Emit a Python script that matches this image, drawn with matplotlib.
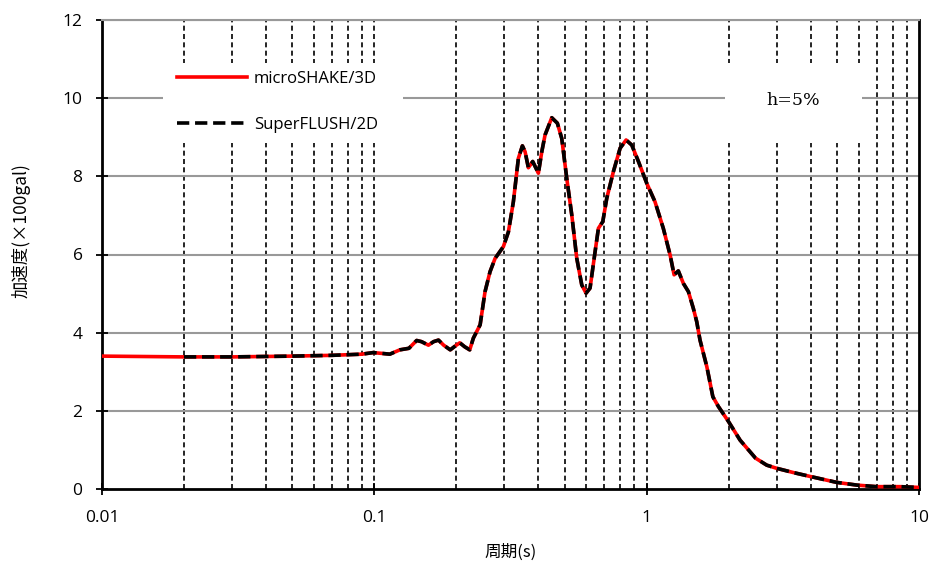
import matplotlib
matplotlib.use("Agg")
import matplotlib.pyplot as plt
from matplotlib.ticker import FixedLocator, NullFormatter, NullLocator

plt.rcParams['font.family'] = ['Noto Sans CJK JP', 'DejaVu Sans']

# period (s)
periods = [0.01, 0.02, 0.03, 0.05, 0.07, 0.09, 0.099, 0.1064, 0.114, 0.124, 0.134, 0.143,
           0.149, 0.158, 0.165, 0.172, 0.1797, 0.190, 0.200, 0.206, 0.2146, 0.224, 0.231,
           0.2446, 0.255, 0.266, 0.2776, 0.2977, 0.3107, 0.324, 0.338, 0.3497, 0.3577,
           0.3678, 0.3816, 0.4003, 0.412, 0.4236, 0.4483, 0.470, 0.4877, 0.5088, 0.5309,
           0.5538, 0.5777, 0.5991, 0.6196, 0.6465, 0.665, 0.690, 0.7137, 0.7547, 0.799,
           0.8404, 0.8817, 0.9327, 1.001, 1.073, 1.151, 1.219, 1.261, 1.307, 1.364, 1.423,
           1.484, 1.527, 1.57, 1.663, 1.75, 1.834, 2.0, 2.203, 2.51, 2.76, 3.0, 3.46,
           3.99, 4.98, 5.91, 6.97, 8.52, 10.0]
# acceleration (x100 gal) - microSHAKE/3D
shake_vals = [3.40, 3.38, 3.38, 3.40, 3.42, 3.45, 3.49, 3.47, 3.45, 3.56, 3.60, 3.80,
              3.77, 3.68, 3.77, 3.81, 3.68, 3.56, 3.68, 3.74, 3.64, 3.56, 3.86,
              4.20, 5.05, 5.56, 5.90, 6.20, 6.58, 7.35, 8.46, 8.78, 8.63,
              8.22, 8.38, 8.08, 8.63, 9.06, 9.50, 9.36, 8.97, 7.95, 7.01,
              5.90, 5.22, 5.01, 5.14, 6.07, 6.67, 6.84, 7.44, 8.12, 8.72,
              8.93, 8.80, 8.38, 7.82, 7.35, 6.67, 5.99, 5.48, 5.58, 5.26, 5.05,
              4.62, 4.28, 3.81, 3.13, 2.36, 2.11, 1.72, 1.25, 0.79, 0.61, 0.53, 0.42,
              0.32, 0.17, 0.10, 0.06, 0.06, 0.04]
# SuperFLUSH/2D (starts at 0.02 s)
flush_periods = periods[1:]
flush_vals = shake_vals[1:]

x_ticks = [0.01, 0.1, 1, 10]
x_tick_labels = ["0.01", "0.1", "1", "10"]
y_ticks = [0, 2, 4, 6, 8, 10, 12]

fig = plt.figure(figsize=(9.33, 5.62), dpi=100)
ax = fig.add_axes([102/933, 73/562, 817/933, 469/562])

ax.set_xscale('log')
ax.set_xlim(0.01, 10)
ax.set_ylim(0, 12)

# grid
minor = [m * 10.0**e for e in (-2, -1, 0) for m in range(2, 10)] + [0.1, 1]
for xv in minor:
    ax.axvline(xv, color='black', lw=1.2, ls=(0, (3, 2)), zorder=1)
for yv in y_ticks[1:]:
    ax.axhline(yv, color='#999999', lw=1.5, zorder=1)

# white boxes behind legend and annotation
ax.axvspan(0.0168, 0.1274, ymin=(489-143)/469, ymax=(489-63)/469, color='white', zorder=2, lw=0)
ax.axvspan(1.94, 6.18, ymin=(489-143)/469, ymax=(489-63)/469, color='white', zorder=2, lw=0)

l1, = ax.plot(periods, shake_vals, color='#ff0000', lw=2.6, zorder=3, label='microSHAKE/3D',
              solid_joinstyle='round')
l2, = ax.plot(flush_periods, flush_vals, color='black', lw=2.6, ls=(0, (3.4, 1.6)), zorder=4,
              label='SuperFLUSH/2D', dash_joinstyle='round')

leg = ax.legend(handles=[l1, l2], loc='upper left', bbox_to_anchor=(0.092, 0.891),
                frameon=False, fontsize=12, handlelength=4.2, labelspacing=1.8,
                handletextpad=0.4, borderaxespad=0, borderpad=0)
leg.set_zorder(6)
for t in leg.get_texts():
    t.set_family(['Open Sans', 'DejaVu Sans'])

ax.text(3.45, 9.95, 'h=5%', fontsize=12.5, family=['DejaVu Serif'], ha='center', va='center',
        zorder=5)

ax.xaxis.set_major_locator(FixedLocator(x_ticks))
ax.set_xticklabels(x_tick_labels)
ax.xaxis.set_minor_locator(NullLocator())
ax.xaxis.set_minor_formatter(NullFormatter())
ax.set_yticks(y_ticks)
ax.tick_params(axis='both', direction='inout', length=8, width=1.3, labelsize=12.5,
               colors='black')
ax.tick_params(axis='x', pad=11)
ax.tick_params(axis='y', pad=10)
for lab in ax.get_xticklabels() + ax.get_yticklabels():
    lab.set_family(['Open Sans', 'DejaVu Sans'])

for s in ('left', 'bottom', 'right'):
    ax.spines[s].set_linewidth(2)
    ax.spines[s].set_color('black')
ax.spines['top'].set_color('#999999')
ax.spines['top'].set_linewidth(1.5)

ax.set_xlabel('周期(s)', fontsize=12)
ax.set_ylabel('加速度(×100gal)', fontsize=12.5)
ax.xaxis.set_label_coords(0.5, -0.134)
ax.yaxis.set_label_coords(-0.099, 0.552)
ax.xaxis.label.set_va('center')
ax.yaxis.label.set_va('center')

fig.savefig('out.png', dpi=100)
